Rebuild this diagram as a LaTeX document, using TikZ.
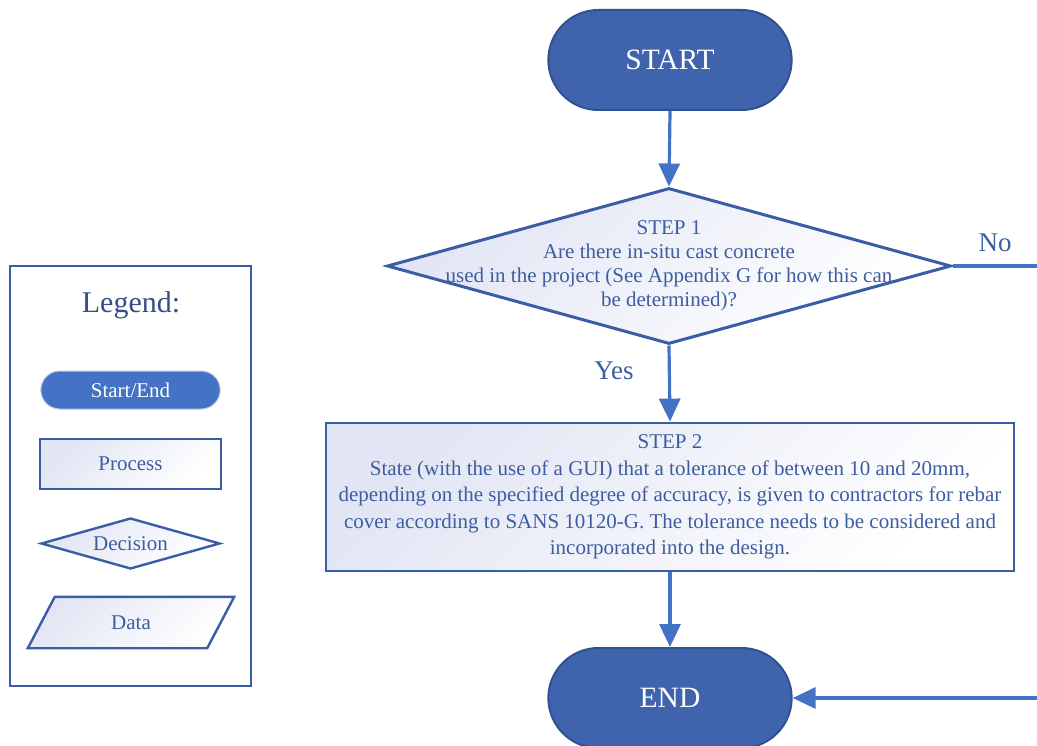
\documentclass[tikz,border=0pt]{standalone}
\usepackage{fontspec}
\setmainfont{Liberation Serif}
\usetikzlibrary{shapes.geometric,shapes.misc,arrows.meta,calc}
\definecolor{flowblue}{HTML}{4472C4}
\definecolor{termfill}{HTML}{3F64AD}
\definecolor{termedge}{HTML}{2F5290}
\definecolor{shapeedge}{HTML}{3A5DA5}
\definecolor{textblue}{HTML}{3D5DA0}
\definecolor{lav}{HTML}{E2E6F4}
\definecolor{legedge}{HTML}{BFC8DC}
\tikzset{
  gradfill/.style={top color=lav, bottom color=white, shading angle=45},
  terminal/.style={rounded rectangle, fill=termfill, draw=termedge, line width=2pt,
    minimum width=250pt, minimum height=100pt, text=white, font=\fontsize{29.5}{33}\selectfont},
  decisionbox/.style={diamond, gradfill, draw=shapeedge, line width=3pt, inner sep=0pt},
  processbox/.style={rectangle, gradfill, draw=shapeedge, line width=2.8pt, inner sep=0pt},
  bodytext/.style={text=textblue, align=center, inner sep=0pt},
  flow/.style={draw=flowblue, line width=3.2pt, -{Triangle[length=23pt,width=21pt]}},
  answer/.style={text=textblue, font=\fontsize{27}{30}\selectfont, inner sep=0pt},
  legtext/.style={text=textblue, font=\fontsize{21}{24}\selectfont},
  legshape/.style={gradfill, draw=shapeedge, line width=2.4pt, inner sep=0pt},
}
\begin{document}
\begin{tikzpicture}[x=1pt,y=-1pt]
\useasboundingbox (0,0) rectangle (1037,746);
\clip (0,0) rectangle (1037,746);

% main flow
\node[terminal] (start) at (670,60) {START};
\node[decisionbox, minimum width=564pt, minimum height=156pt] (step1) at (669,266) {};
\node[bodytext, font=\fontsize{21}{24}\selectfont] (step1txt) at (step1.center)
  {STEP 1\\Are there in-situ cast concrete\\used in the project (See Appendix G for how this can\\be determined)?};
\node[processbox, minimum width=688pt, minimum height=148pt] (step2) at (670,497) {};
\node[bodytext, font=\fontsize{21}{26.6}\selectfont] (step2txt) at (step2.center)
  {STEP 2\\State (with the use of a GUI) that a tolerance of between 10 and 20mm,\\depending on the specified degree of accuracy, is given to contractors for rebar\\cover according to SANS 10120-G. The tolerance needs to be considered and\\incorporated into the design.};
\node[terminal] (end) at (670,698) {END};

\node[answer] (no) at (995,243) {No};
\node[answer] (yes) at (614,371) {Yes};

\coordinate (noturn) at (1070,266);
\draw[flow] (start.south) -- (step1.north);
\draw[flow] (step1.south) -- (step2.north);
\draw[flow] (step2.south) -- (end.north);
\draw[flow] (step1.east) -- (noturn) |- (end.east);

% legend
\node[draw=shapeedge, line width=2.6pt, minimum width=241pt, minimum height=420pt, inner sep=0pt] (legend) at (130.5,476) {};
\node[text=textblue!85!black, font=\fontsize{30}{33}\selectfont] (legtitle) at (131,305) {Legend:};
\node[rounded rectangle, fill=flowblue, draw=legedge, line width=1pt, minimum width=186pt, minimum height=38pt,
  text=white, font=\fontsize{21}{24}\selectfont] (legterm) at (130.5,390) {Start/End};
\node[processbox, line width=2.4pt, minimum width=181pt, minimum height=50pt, legtext] (legproc) at (130.5,464) {Process};
\node[decisionbox, line width=2.4pt, shape aspect=3.5, minimum width=179pt, minimum height=51pt] (legdec) at (130.5,543.5) {};
\node[legtext] (legdectxt) at (legdec.center) {Decision};
\node[minimum width=206pt, minimum height=51pt, inner sep=0pt] (legdata) at (131,622.5) {};
\path[legshape] ($(legdata.north west)+(27,0)$) -- (legdata.north east)
  -- ($(legdata.south east)+(-27,0)$) -- (legdata.south west) -- cycle;
\node[legtext] (legdatatxt) at (legdata.center) {Data};
\end{tikzpicture}
\end{document}
